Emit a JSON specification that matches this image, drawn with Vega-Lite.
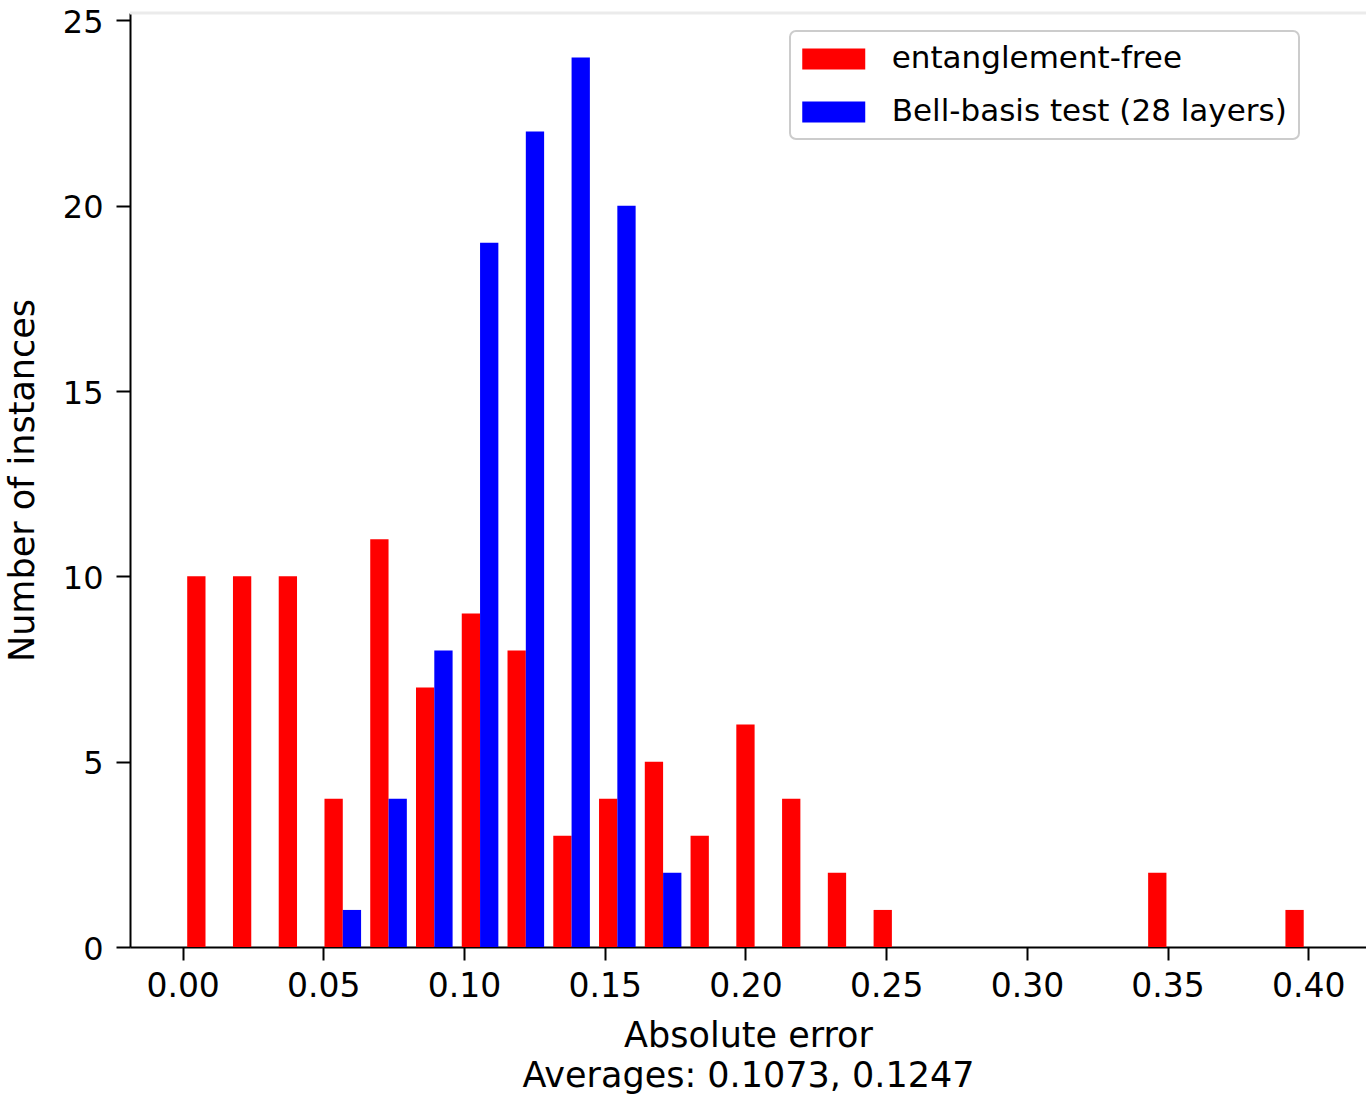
{
  "$schema": "https://vega.github.io/schema/vega-lite/v6.json",
  "width": 1236,
  "height": 934,
  "autosize": {"type": "none"},
  "padding": {"left": 130, "top": 13, "right": 0, "bottom": 147},
  "background": "#ffffff",
  "config": {
    "font": "DejaVu Sans",
    "view": {"stroke": null},
    "axis": {
      "grid": false,
      "domainColor": "#000000",
      "tickColor": "#000000",
      "labelColor": "#000000",
      "titleColor": "#000000",
      "titleFontWeight": "normal",
      "domainWidth": 2,
      "tickWidth": 2,
      "tickSize": 13,
      "labelFont": "DejaVu Sans",
      "titleFont": "DejaVu Sans"
    },
    "legend": {"labelFont": "DejaVu Sans", "strokeWidth": 2}
  },
  "datasets": {
    "hist": [
      {"series": "entanglement-free", "bin_start": 0.0, "bin_end": 0.01626, "count": 10},
      {"series": "entanglement-free", "bin_start": 0.01626, "bin_end": 0.03252, "count": 10},
      {"series": "entanglement-free", "bin_start": 0.03252, "bin_end": 0.04878, "count": 10},
      {"series": "entanglement-free", "bin_start": 0.04878, "bin_end": 0.06504, "count": 4},
      {"series": "entanglement-free", "bin_start": 0.06504, "bin_end": 0.0813, "count": 11},
      {"series": "entanglement-free", "bin_start": 0.0813, "bin_end": 0.09756, "count": 7},
      {"series": "entanglement-free", "bin_start": 0.09756, "bin_end": 0.11382, "count": 9},
      {"series": "entanglement-free", "bin_start": 0.11382, "bin_end": 0.13008, "count": 8},
      {"series": "entanglement-free", "bin_start": 0.13008, "bin_end": 0.14634, "count": 3},
      {"series": "entanglement-free", "bin_start": 0.14634, "bin_end": 0.1626, "count": 4},
      {"series": "entanglement-free", "bin_start": 0.1626, "bin_end": 0.17886, "count": 5},
      {"series": "entanglement-free", "bin_start": 0.17886, "bin_end": 0.19512, "count": 3},
      {"series": "entanglement-free", "bin_start": 0.19512, "bin_end": 0.21138, "count": 6},
      {"series": "entanglement-free", "bin_start": 0.21138, "bin_end": 0.22764, "count": 4},
      {"series": "entanglement-free", "bin_start": 0.22764, "bin_end": 0.2439, "count": 2},
      {"series": "entanglement-free", "bin_start": 0.2439, "bin_end": 0.26016, "count": 1},
      {"series": "entanglement-free", "bin_start": 0.34146, "bin_end": 0.35772, "count": 2},
      {"series": "entanglement-free", "bin_start": 0.39024, "bin_end": 0.4065, "count": 1},
      {"series": "Bell-basis test (28 layers)", "bin_start": 0.04878, "bin_end": 0.06504, "count": 1},
      {"series": "Bell-basis test (28 layers)", "bin_start": 0.06504, "bin_end": 0.0813, "count": 4},
      {"series": "Bell-basis test (28 layers)", "bin_start": 0.0813, "bin_end": 0.09756, "count": 8},
      {"series": "Bell-basis test (28 layers)", "bin_start": 0.09756, "bin_end": 0.11382, "count": 19},
      {"series": "Bell-basis test (28 layers)", "bin_start": 0.11382, "bin_end": 0.13008, "count": 22},
      {"series": "Bell-basis test (28 layers)", "bin_start": 0.13008, "bin_end": 0.14634, "count": 24},
      {"series": "Bell-basis test (28 layers)", "bin_start": 0.14634, "bin_end": 0.1626, "count": 20},
      {"series": "Bell-basis test (28 layers)", "bin_start": 0.1626, "bin_end": 0.17886, "count": 2}
    ]
  },
  "layer": [
    {
      "data": {"values": [{}]},
      "mark": {"type": "rule", "color": "#ebebeb", "strokeWidth": 3},
      "encoding": {
        "y": {"datum": 25.2, "type": "quantitative", "scale": {"domain": [0, 25.2], "nice": false, "zero": true}}
      }
    },
    {
      "data": {"name": "hist"},
      "transform": [{"filter": "datum.series === 'entanglement-free'"}],
      "mark": {"type": "bar", "xOffset": 4.58, "x2Offset": -22.88, "stroke": null},
      "encoding": {
        "x": {
          "field": "bin_start", "type": "quantitative",
          "scale": {"domain": [-0.0187, 0.4205], "nice": false, "zero": false},
          "axis": {
            "values": [0, 0.05, 0.1, 0.15, 0.2, 0.25, 0.3, 0.35, 0.4],
            "format": ".2f",
            "labelFontSize": 33,
            "labelPadding": 10,
            "labelFlush": false,
            "labelOverlap": false,
            "title": ["Absolute error", "Averages: 0.1073, 0.1247"],
            "titleFontSize": 35,
            "titleLineHeight": 40,
            "titlePadding": 15
          }
        },
        "x2": {"field": "bin_end"},
        "y": {
          "field": "count", "type": "quantitative",
          "scale": {"domain": [0, 25.2], "nice": false, "zero": true},
          "axis": {
            "values": [0, 5, 10, 15, 20, 25],
            "labelFontSize": 32,
            "labelPadding": 13,
            "labelOffset": 2,
            "tickSize": 14,
            "title": "Number of instances",
            "titleFontSize": 35,
            "titlePadding": 22
          }
        },
        "y2": {"datum": 0},
        "color": {
          "field": "series", "type": "nominal",
          "scale": {"domain": ["entanglement-free", "Bell-basis test (28 layers)"], "range": ["#ff0000", "#0000ff"]},
          "legend": {
            "title": null,
            "orient": "none",
            "legendX": 660,
            "legendY": 18,
            "fillColor": "#ffffff",
            "strokeColor": "#cccccc",
            "cornerRadius": 6,
            "padding": 12,
            "rowPadding": 22,
            "labelOffset": 42,
            "labelFontSize": 31,
            "labelColor": "#000000",
            "labelLimit": 800,
            "symbolType": "M-2,-0.6667H2V0.6667H-2Z",
            "symbolSize": 992,
            "symbolOffset": 15.75,
            "symbolStrokeWidth": 0,
            "symbolOpacity": 1
          }
        }
      }
    },
    {
      "data": {"name": "hist"},
      "transform": [{"filter": "datum.series === 'Bell-basis test (28 layers)'"}],
      "mark": {"type": "bar", "xOffset": 22.88, "x2Offset": -4.58, "stroke": null},
      "encoding": {
        "x": {"field": "bin_start", "type": "quantitative"},
        "x2": {"field": "bin_end"},
        "y": {"field": "count", "type": "quantitative"},
        "y2": {"datum": 0},
        "color": {"field": "series", "type": "nominal"}
      }
    }
  ]
}
